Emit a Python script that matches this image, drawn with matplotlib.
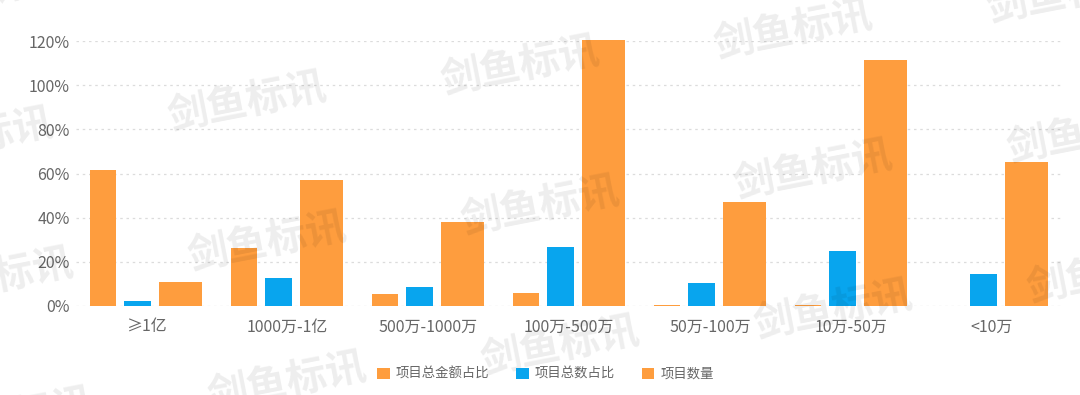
import matplotlib
matplotlib.use("Agg")
import matplotlib.pyplot as plt
import numpy as np

plt.rcParams['font.family'] = ['Noto Sans CJK SC', 'DejaVu Sans']

categories = ["≥1亿", "1000万-1亿", "500万-1000万", "100万-500万", "50万-100万", "10万-50万", "<10万"]
amount_ratio = [61.6, 26.1, 5.3, 5.7, 0.6, 0.5, 0.1]      # 项目总金额占比
count_ratio = [2.3, 12.8, 8.5, 26.7, 10.4, 24.9, 14.5]    # 项目总数占比
project_count = [10.9, 56.9, 38.2, 120.3, 47.1, 111.4, 65.1]  # 项目数量
yticks = [0, 20, 40, 60, 80, 100, 120]

orange = '#FE9D3E'
blue = '#08A5EE'
grey = '#666666'

fig = plt.figure(figsize=(10.8, 3.95), dpi=100)
ax = fig.add_axes([75.5 / 1080, 89 / 395, 987 / 1080, 265 / 395])

x = np.arange(len(categories))
ax.bar(x - 0.305, amount_ratio, width=0.184, color=orange, label='项目总金额占比', clip_on=False, zorder=2)
ax.bar(x - 0.060, count_ratio, width=0.19, color=blue, label='项目总数占比', clip_on=False, zorder=2)
ax.bar(x + 0.245, project_count, width=0.305, color=orange, label='项目数量', clip_on=False, zorder=2)

ax.set_xlim(-0.5, len(categories) - 0.5)
ax.set_ylim(0, 120)
ax.set_yticks(yticks)
ax.set_yticklabels([f"{v}%" for v in yticks])
ax.set_xticks(x)
ax.set_xticklabels(categories)
ax.tick_params(axis='y', length=0, pad=4, labelsize=11.5, labelcolor=grey)
ax.tick_params(axis='x', length=0, pad=9, labelsize=11.5, labelcolor=grey)
for s in ax.spines.values():
    s.set_visible(False)
ax.grid(axis='y', color='#dcdcdc', linestyle=(0, (2, 3)), linewidth=0.9, zorder=0)
ax.set_axisbelow(True)

fig.legend(loc='center', bbox_to_anchor=(0.505, 21 / 395), ncol=3, frameon=False,
           fontsize=9.6, labelcolor=grey, handlelength=0.95, handleheight=0.95,
           handletextpad=0.45, columnspacing=2.0)

# watermark
for i in range(-1, 5):
    for j in range(-1, 4):
        px = 247 + 273 * i + 20 * j
        py = 103 - 36 * i + 140 * j
        if -120 < px < 1200 and -60 < py < 460:
            fig.text(px / 1080, 1 - py / 395, "剑鱼标讯", ha='center', va='center',
                     rotation=11, fontsize=29, fontweight='bold', color='#000000',
                     alpha=0.07, zorder=5)

fig.savefig("out.png", dpi=100)
